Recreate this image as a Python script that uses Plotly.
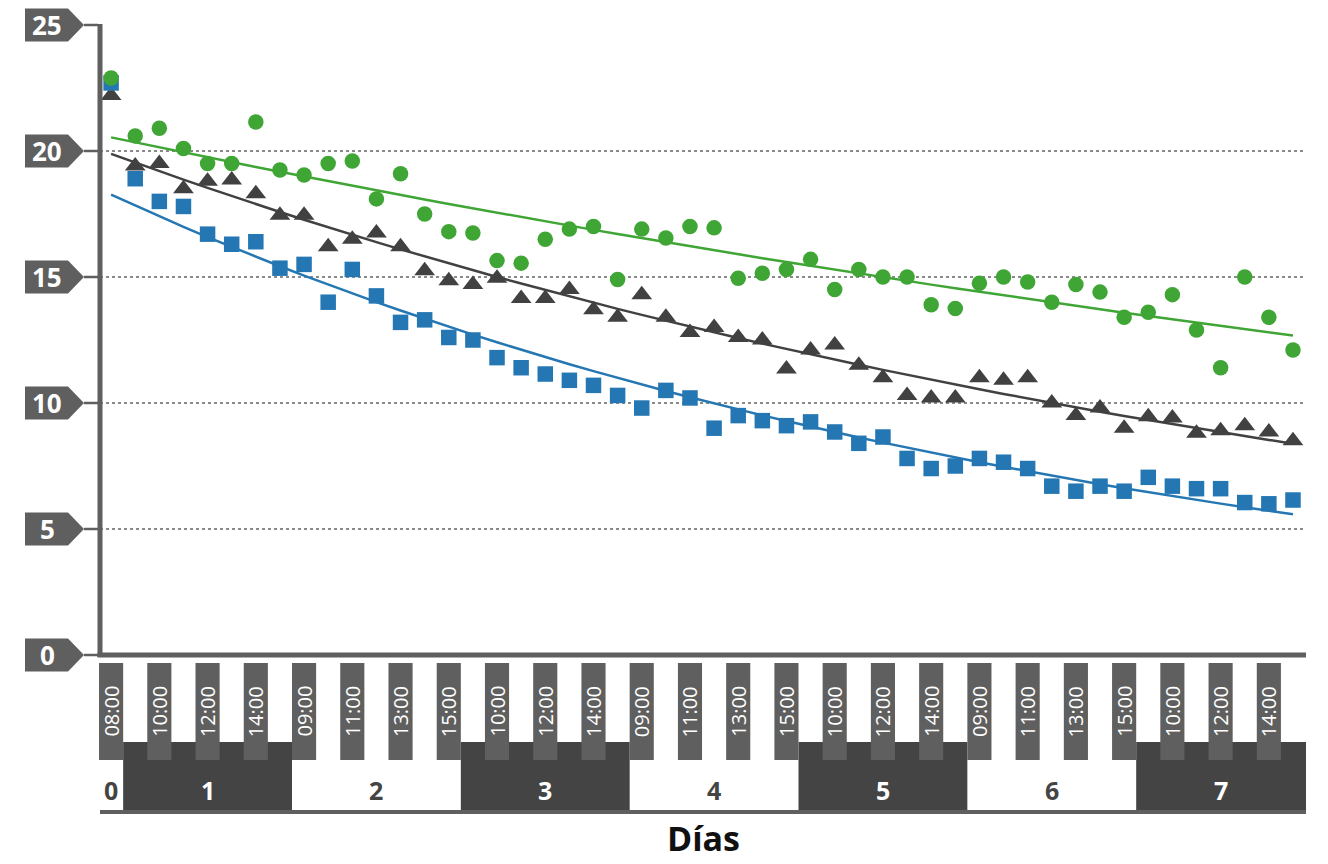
import numpy as np
import plotly.graph_objects as go

# ---------------- data ----------------
day_numbers = [0, 1, 2, 3, 4, 5, 6, 7]
hour_labels = ["08:00"] + ["09:00", "10:00", "11:00", "12:00", "13:00", "14:00", "15:00"] * 7
point_day = [0] + [d for d in range(1, 8) for _ in range(7)]

green_values = [22.9, 20.6, 20.9, 20.1, 19.5, 19.5, 21.15, 19.25, 19.05, 19.5,
                19.6, 18.1, 19.1, 17.5, 16.8, 16.75, 15.65, 15.55, 16.5, 16.9,
                17.0, 14.9, 16.9, 16.55, 17.0, 16.95, 14.95, 15.15, 15.3, 15.7,
                14.5, 15.3, 15.0, 15.0, 13.9, 13.75, 14.75, 15.0, 14.8, 14.0,
                14.7, 14.4, 13.4, 13.6, 14.3, 12.9, 11.4, 15.0, 13.4, 12.1]
dark_values = [22.2, 19.4, 19.5, 18.5, 18.8, 18.85, 18.3, 17.45, 17.45, 16.2,
               16.5, 16.75, 16.2, 15.25, 14.85, 14.7, 14.95, 14.15, 14.15, 14.5,
               13.7, 13.4, 14.3, 13.4, 12.8, 13.0, 12.6, 12.5, 11.35, 12.1,
               12.3, 11.5, 11.0, 10.3, 10.2, 10.2, 11.0, 10.9, 11.0, 10.0,
               9.5, 9.8, 9.0, 9.45, 9.4, 8.8, 8.9, 9.1, 8.85, 8.5]
blue_values = [22.7, 18.9, 18.0, 17.8, 16.7, 16.3, 16.4, 15.35, 15.5, 14.0,
               15.3, 14.25, 13.2, 13.3, 12.6, 12.5, 11.8, 11.4, 11.15, 10.9,
               10.7, 10.3, 9.8, 10.5, 10.2, 9.0, 9.5, 9.3, 9.1, 9.25,
               8.85, 8.4, 8.65, 7.8, 7.4, 7.5, 7.8, 7.65, 7.4, 6.7,
               6.5, 6.7, 6.5, 7.05, 6.7, 6.6, 6.6, 6.05, 6.0, 6.15]
y_ticks = [0, 5, 10, 15, 20, 25]
x_title = "Días"

# ---------------- styling ----------------
GREEN = "#3fa535"
DARK = "#414141"
BLUE = "#2477b3"
BOX = "#5f5f5f"
BAND = "#444444"
FONT = "Open Sans"

OFF = 8  # the page body adds an 8px margin
W, H = 1328 - OFF, 864 - OFF
ML, MR, MT, MB = 100 - OFF, 22, 25 - OFF, 209
PW, PH = W - ML - MR, H - MT - MB
X0, X1 = -0.46, 49.54
Y0, Y1 = 0, 25


def px_x(p):  # page pixel -> paper x
    return (p - OFF - ML) / PW


def px_y(p):  # page pixel -> paper y
    return (H - MB - (p - OFF)) / PH


def val_y(v):  # data y -> paper y
    return (v - Y0) / (Y1 - Y0)


def val_x(v):  # data x -> paper x
    return (v - X0) / (X1 - X0)


idx = np.arange(len(green_values))

fig = go.Figure()

series = [
    ("dark", dark_values, DARK, "triangle-up", 18),
    ("blue", blue_values, BLUE, "square", 15.5),
    ("green", green_values, GREEN, "circle", 15.5),
]

# exponential trend lines (least squares on log values)
for name, vals, col, sym, sz in series:
    b, a = np.polyfit(idx, np.log(vals), 1)
    fig.add_trace(go.Scatter(x=idx, y=np.exp(a + b * idx), mode="lines",
                             line=dict(color=col, width=2.5), hoverinfo="skip",
                             showlegend=False))
for name, vals, col, sym, sz in series:
    fig.add_trace(go.Scatter(x=idx, y=vals, mode="markers", name=name,
                             marker=dict(color=col, symbol=sym, size=sz,
                                         line=dict(width=0)),
                             showlegend=False))

shapes = []
annotations = []

# axis lines
shapes.append(dict(type="line", xref="paper", yref="paper",
                   x0=px_x(100), x1=px_x(100), y0=px_y(657), y1=px_y(24),
                   line=dict(color=BOX, width=5), layer="above"))
shapes.append(dict(type="line", xref="paper", yref="paper",
                   x0=px_x(97.5), x1=1, y0=px_y(655), y1=px_y(655),
                   line=dict(color=BOX, width=5), layer="above"))

# y tick label boxes (arrow shaped)
half = 16.5 / PH
for v in y_ticks:
    yc = val_y(v)
    xa, xb, xc = px_x(25), px_x(68), px_x(84)
    path = (f"M {xa},{yc - half} L {xb},{yc - half} L {xc},{yc} "
            f"L {xb},{yc + half} L {xa},{yc + half} Z")
    shapes.append(dict(type="path", xref="paper", yref="paper", path=path,
                       fillcolor=BOX, line=dict(width=0), layer="above"))
    shapes.append(dict(type="line", xref="paper", yref="paper",
                       x0=px_x(84), x1=px_x(98), y0=yc, y1=yc,
                       line=dict(color=BOX, width=2.5), layer="above"))
    annotations.append(dict(xref="paper", yref="paper", x=px_x(47), y=yc,
                            text=f"<b>{v}</b>", showarrow=False,
                            font=dict(family=FONT, size=26, color="white"),
                            xanchor="center", yanchor="middle"))

# day band
for d in day_numbers:
    members = [i for i, pd in enumerate(point_day) if pd == d]
    xs = X0 if d == 0 else min(members) - 0.5
    xe = X1 if d == day_numbers[-1] else max(members) + 0.5
    dark_band = d % 2 == 1
    if dark_band:
        shapes.append(dict(type="rect", xref="paper", yref="paper",
                           x0=val_x(xs), x1=val_x(xe), y0=px_y(810), y1=px_y(742),
                           fillcolor=BAND, line=dict(width=0), layer="above"))
    annotations.append(dict(xref="paper", yref="paper",
                            x=val_x((xs + xe) / 2 if d else 0),
                            y=px_y(790), text=f"<b>{d}</b>", showarrow=False,
                            font=dict(family=FONT, size=25,
                                      color="white" if dark_band else BAND),
                            xanchor="center", yanchor="middle"))

# bottom line of the day band
shapes.append(dict(type="line", xref="paper", yref="paper",
                   x0=0, x1=1, y0=px_y(812), y1=px_y(812),
                   line=dict(color=BOX, width=4), layer="above"))

# x tick label boxes (every other point)
for i in range(0, len(hour_labels), 2):
    shapes.append(dict(type="rect", xref="paper", yref="paper",
                       x0=val_x(i - 0.5), x1=val_x(i + 0.5),
                       y0=px_y(760), y1=px_y(663),
                       fillcolor=BOX, line=dict(width=0), layer="above"))
    annotations.append(dict(xref="paper", yref="paper", x=val_x(i), y=px_y(711.5),
                            text=hour_labels[i], showarrow=False, textangle=-90,
                            font=dict(family=FONT, size=20, color="white"),
                            xanchor="center", yanchor="middle"))

# axis title
annotations.append(dict(xref="paper", yref="paper", x=0.5, y=px_y(838),
                        text=f"<b>{x_title}</b>", showarrow=False,
                        font=dict(family=FONT, size=34, color="#111111"),
                        xanchor="center", yanchor="middle"))

fig.update_layout(
    width=W, height=H,
    margin=dict(l=ML, r=MR, t=MT, b=MB),
    paper_bgcolor="white", plot_bgcolor="white",
    xaxis=dict(range=[X0, X1], showgrid=False, zeroline=False,
               showticklabels=False, showline=False, ticks=""),
    yaxis=dict(range=[Y0, Y1], tickvals=y_ticks[1:], showgrid=True,
               gridcolor="#8a8a8a", gridwidth=1.5, griddash="dot",
               zeroline=False, showticklabels=False, showline=False, ticks=""),
    shapes=shapes, annotations=annotations,
    showlegend=False,
)

fig.write_html("out.html")
